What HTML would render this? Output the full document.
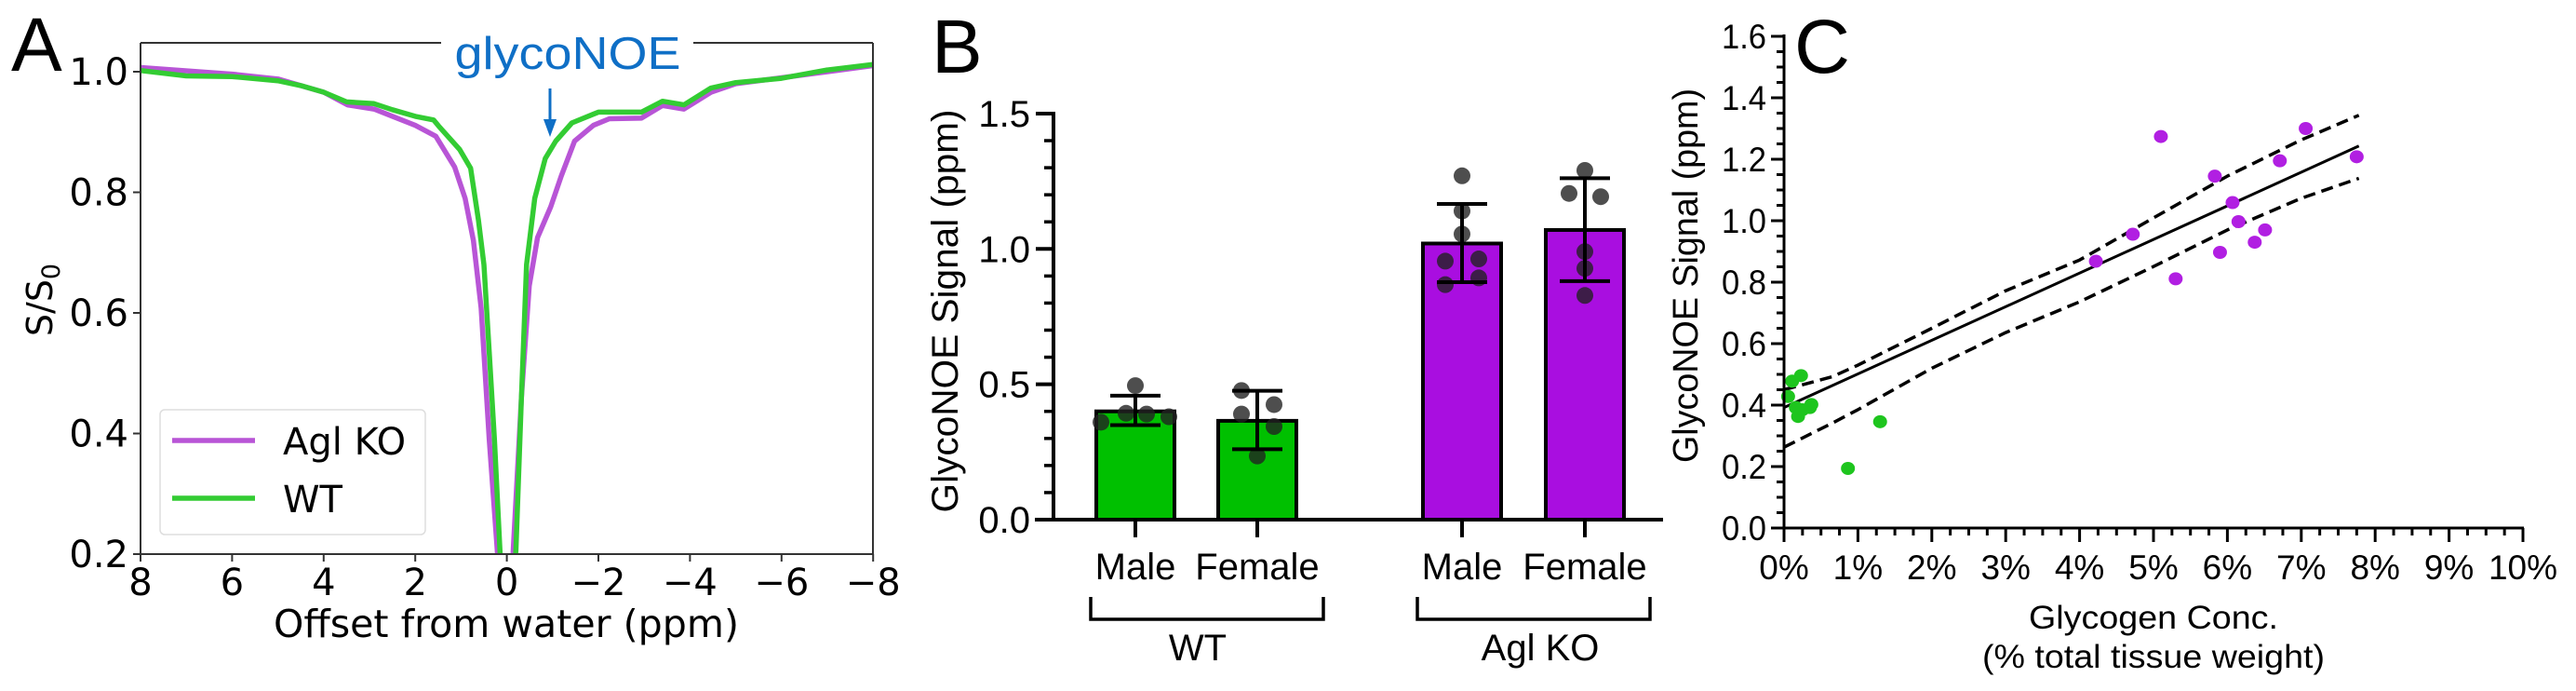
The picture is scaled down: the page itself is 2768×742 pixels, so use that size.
<!DOCTYPE html>
<html><head><meta charset="utf-8"><style>
html,body{margin:0;padding:0;background:#fff;}
svg{display:block;}
text{font-family:"Liberation Sans",sans-serif;}
.dv{font-family:"DejaVu Sans","Liberation Sans",sans-serif;}
</style></head><body>
<svg id="fig" xmlns="http://www.w3.org/2000/svg" width="2768" height="742" viewBox="0 0 2768 742">
<defs><clipPath id="clipA"><rect x="151" y="46" width="787" height="549"/></clipPath></defs>
<g id="panelA"></g>
<g id="panelB"></g>
<g id="panelC"></g>
</svg>
<script>
// ---------- Panel A data ----------
const wtOffsets = [8,7,6,5,4.5,4,3.5,2.9,2.5,2,1.6,1.49,1.03,0.79,0.62,0.5,0.385,0.27,0.15,0.05,-0.05,-0.2,-0.32,-0.43,-0.61,-0.84,-1.07,-1.42,-2,-2.94,-3.4,-3.87,-4.46,-5,-6,-7,-8];
const wtValues  = [1.002,0.993,0.992,0.985,0.977,0.966,0.95,0.947,0.937,0.926,0.92,0.91,0.871,0.84,0.754,0.68,0.535,0.39,0.207,0.05,0.05,0.207,0.46,0.68,0.79,0.856,0.885,0.915,0.933,0.933,0.951,0.945,0.973,0.982,0.989,1.003,1.012];
const koOffsets = [8,6,5,4,3.48,2.9,2,1.55,1.14,0.91,0.73,0.56,0.385,0.21,0.1,-0.05,-0.14,-0.32,-0.49,-0.67,-0.96,-1.19,-1.48,-1.89,-2.24,-2.94,-3.4,-3.87,-4.46,-5,-6,-7,-8];
const koValues  = [1.007,0.996,0.988,0.966,0.945,0.938,0.911,0.893,0.842,0.79,0.72,0.608,0.39,0.207,0.05,0.05,0.207,0.46,0.645,0.725,0.776,0.827,0.885,0.911,0.922,0.923,0.944,0.938,0.966,0.98,0.99,1.0,1.01];
const aXTicks = [8,6,4,2,0,-2,-4,-6,-8];
const aXTickLabels = ["8","6","4","2","0","\u22122","\u22124","\u22126","\u22128"];
const aYTicks = [0.2,0.4,0.6,0.8,1.0];
const aYTickLabels = ["0.2","0.4","0.6","0.8","1.0"];

// ---------- Panel B data ----------
const bCategories = ["Male","Female","Male","Female"];
const bMeans = [0.40,0.365,1.02,1.07];
const bErrLow = [0.349,0.26,0.877,0.881];
const bErrHigh = [0.458,0.476,1.166,1.261];
const bDots0 = [0.36,0.393,0.495,0.39,0.38];
const bDots1 = [0.477,0.39,0.425,0.344,0.235];
const bDots2 = [1.27,1.14,1.055,0.955,0.963,0.868,0.893];
const bDots3 = [1.29,1.205,1.193,0.99,0.928,0.828];
const bYTicks = [0,0.5,1.0,1.5];
const bYTickLabels = ["0.0","0.5","1.0","1.5"];

// ---------- Panel C data ----------
const cWtX = [0.055,0.11,0.23,0.16,0.19,0.35,0.37,0.25,1.3,0.865];
const cWtY = [0.428,0.478,0.496,0.392,0.363,0.392,0.402,0.385,0.346,0.194];
const cKoX = [4.22,4.72,5.1,5.3,5.83,5.9,6.07,6.15,6.37,6.51,6.71,7.06,7.75];
const cKoY = [0.868,0.956,1.274,0.811,1.145,0.897,1.059,0.997,0.93,0.97,1.195,1.3,1.208];
const cFitX = [0,7.78];
const cFitY = [0.392,1.243];
const cBandX = [0,0.65,1,2,3,4,5,6,7,7.78];
const cUpper = [0.45,0.492,0.53,0.65,0.772,0.872,1.009,1.145,1.263,1.343];
const cLower = [0.263,0.341,0.385,0.52,0.636,0.736,0.851,0.97,1.073,1.138];
const cXTicks = [0,1,2,3,4,5,6,7,8,9,10];
const cXTickLabels = ["0%","1%","2%","3%","4%","5%","6%","7%","8%","9%","10%"];
const cYTicks = [0,0.2,0.4,0.6,0.8,1.0,1.2,1.4,1.6];
const cYTickLabels = ["0.0","0.2","0.4","0.6","0.8","1.0","1.2","1.4","1.6"];

const NS = "http://www.w3.org/2000/svg";
function mk(parent, tag, attrs, txt){
  const e = document.createElementNS(NS, tag);
  for (const k in attrs) e.setAttribute(k, attrs[k]);
  if (txt !== undefined) e.textContent = txt;
  parent.appendChild(e); return e;
}

// ===== Panel A =====
(function(){
  const g = document.getElementById('panelA');
  const xA = p => 151 + (8 - p) * 49.2;
  const yA = v => 595 - (v - 0.2) * 647.5;
  let t;
  t = mk(g,'text',{x:12,y:76,'font-size':82});t.textContent='A';
  
  
  const cg = mk(g,'g',{'clip-path':'url(#clipA)'});
  function curve(xs, ys, color, name){
    let d = xs.map((x,i)=>(i?'L':'M')+xA(x).toFixed(1)+','+yA(ys[i]).toFixed(1)).join(' ');
    const p = mk(cg,'path',{d:d,fill:'none',stroke:color,'stroke-width':5.5,'stroke-linejoin':'round'});
    
    
  }
  curve(koOffsets, koValues, '#b855d6', 'agl-ko-curve');
  curve(wtOffsets, wtValues, '#33cc33', 'wt-curve');
  const sp = {stroke:'#333','stroke-width':2};
  let s;
  s = mk(g,'line',Object.assign({x1:151,y1:46,x2:151,y2:595},sp));
  
  
  s = mk(g,'line',Object.assign({x1:151,y1:595,x2:938,y2:595},sp));
  
  
  mk(g,'line',Object.assign({x1:938,y1:46,x2:938,y2:595},sp));
  mk(g,'line',Object.assign({x1:151,y1:46,x2:474,y2:46},sp));
  mk(g,'line',Object.assign({x1:745,y1:46,x2:938,y2:46},sp));
  aXTicks.forEach((v,i)=>{
    mk(g,'line',{x1:xA(v),y1:595,x2:xA(v),y2:603,stroke:'#333','stroke-width':2});
    const tt = mk(g,'text',{x:xA(v),y:639,'font-size':40,'text-anchor':'middle','class':'dv'}, aXTickLabels[i]);
    
    
  });
  aYTicks.forEach((v,i)=>{
    mk(g,'line',{x1:143,y1:yA(v),x2:151,y2:yA(v),stroke:'#333','stroke-width':2});
    const tt = mk(g,'text',{x:138,y:yA(v)+14,'font-size':40,'text-anchor':'end','class':'dv'}, aYTickLabels[i]);
    
    
  });
  t = mk(g,'text',{x:544,y:684,'font-size':41,'text-anchor':'middle','class':'dv',textLength:500,lengthAdjust:'spacingAndGlyphs'},'Offset from water (ppm)');
  
  
  t = mk(g,'text',{x:0,y:0,'font-size':38,'text-anchor':'middle','class':'dv',transform:'translate(56,322) rotate(-90)'});
  
  
  t.innerHTML = 'S/S<tspan font-size="27" dy="8">0</tspan>';
  t = mk(g,'text',{x:610,y:74,'font-size':49,'text-anchor':'middle',fill:'#0f6fc6',textLength:243,lengthAdjust:'spacingAndGlyphs'},'glycoNOE');
  
  
  const ar = mk(g,'g',{});
  
  
  mk(ar,'line',{x1:591,y1:95,x2:591,y2:132,stroke:'#0f6fc6','stroke-width':3});
  mk(ar,'polygon',{points:'584,128 598,128 591,147',fill:'#0f6fc6'});
  const lg = mk(g,'g',{});
  
  
  mk(lg,'rect',{x:172,y:440,width:285,height:134,rx:5,fill:'#fff',stroke:'#ddd','stroke-width':1.5});
  mk(lg,'line',{x1:185,y1:473,x2:274,y2:473,stroke:'#b855d6','stroke-width':5.5});
  t = mk(lg,'text',{x:304,y:488,'font-size':40,'class':'dv'},'Agl KO');
  
  
  mk(lg,'line',{x1:185,y1:535,x2:274,y2:535,stroke:'#33cc33','stroke-width':5.5});
  t = mk(lg,'text',{x:304,y:550,'font-size':40,'class':'dv'},'WT');
  
  
})();

// ===== Panel B =====
(function(){
  const g = document.getElementById('panelB');
  const yB = v => 558 - v * 290.7;
  const centers = [1220,1351,1571,1703];
  const colors = ['#00c000','#00c000','#a90ee0','#a90ee0'];
  const dotSets = [bDots0,bDots1,bDots2,bDots3];
  const dotOffsets = [[-37,-10,0,12,36],[-17,-17,18,18,0],[0,0,0,-18,18,-18,18],[0,-17,17,0,0,0]];
  let t;
  t = mk(g,'text',{x:1001,y:78,'font-size':82});t.textContent='B';
  
  
  bMeans.forEach((m,i)=>{
    const r = mk(g,'rect',{x:centers[i]-42,y:yB(m),width:84,height:yB(0)-yB(m),fill:colors[i],stroke:'#000','stroke-width':4});
    
    
  });
  dotSets.forEach((ds,i)=>{
    ds.forEach((v,j)=>{
      const c = mk(g,'circle',{cx:centers[i]+dotOffsets[i][j],cy:yB(v),r:9,fill:'#222','fill-opacity':0.8});
      
      
    });
  });
  bMeans.forEach((m,i)=>{
    const eg = mk(g,'g',{stroke:'#000','stroke-width':4});
    
    
    const cx = centers[i];
    mk(eg,'line',{x1:cx,y1:yB(bErrLow[i]),x2:cx,y2:yB(bErrHigh[i])});
    mk(eg,'line',{x1:cx-27,y1:yB(bErrLow[i]),x2:cx+27,y2:yB(bErrLow[i])});
    mk(eg,'line',{x1:cx-27,y1:yB(bErrHigh[i]),x2:cx+27,y2:yB(bErrHigh[i])});
  });
  let s = mk(g,'line',{x1:1132,y1:120,x2:1132,y2:560,stroke:'#000','stroke-width':4});
  
  
  s = mk(g,'line',{x1:1112,y1:558,x2:1787,y2:558,stroke:'#000','stroke-width':4});
  
  
  for (let k=1;k<15;k++){ if (k%5) mk(g,'line',{x1:1122,y1:yB(k/10),x2:1132,y2:yB(k/10),stroke:'#000','stroke-width':3.5}); }
  bYTicks.forEach((v,i)=>{
    mk(g,'line',{x1:1113,y1:yB(v),x2:1132,y2:yB(v),stroke:'#000','stroke-width':4});
    const tt = mk(g,'text',{x:1107,y:yB(v)+14,'font-size':40,'text-anchor':'end'}, bYTickLabels[i]);
    
    
  });
  centers.forEach((cx,i)=>{
    mk(g,'line',{x1:cx,y1:558,x2:cx,y2:577,stroke:'#000','stroke-width':4});
    const tt = mk(g,'text',{x:cx,y:622,'font-size':40,'text-anchor':'middle'}, bCategories[i]);
    
    
  });
  const br1 = mk(g,'path',{d:'M1172,641 V665 H1422 V641',fill:'none',stroke:'#000','stroke-width':3.5});
  
  
  const br2 = mk(g,'path',{d:'M1523,641 V665 H1773 V641',fill:'none',stroke:'#000','stroke-width':3.5});
  
  
  t = mk(g,'text',{x:1287,y:709,'font-size':40,'text-anchor':'middle'},'WT');
  
  
  t = mk(g,'text',{x:1655,y:709,'font-size':40,'text-anchor':'middle','xml:space':'preserve'},'Agl  KO');
  
  
  t = mk(g,'text',{x:0,y:0,'font-size':40,'text-anchor':'middle',transform:'translate(1029,334) rotate(-90)',textLength:433,lengthAdjust:'spacingAndGlyphs'},'GlycoNOE Signal (ppm)');
  
  
})();

// ===== Panel C =====
(function(){
  const g = document.getElementById('panelC');
  const xC = p => 1917 + p * 79.4;
  const yC = v => 567 - v * 330;
  let t;
  t = mk(g,'text',{x:1928,y:78,'font-size':82,textLength:60,lengthAdjust:'spacingAndGlyphs'});t.textContent='C';
  
  
  function poly(xs, ys, attrs, name){
    const d = xs.map((x,i)=>(i?'L':'M')+xC(x).toFixed(1)+','+yC(ys[i]).toFixed(1)).join(' ');
    const p = mk(g,'path',Object.assign({d:d,fill:'none',stroke:'#000','stroke-linejoin':'round'},attrs));
    
    
  }
  poly(cBandX, cUpper, {'stroke-width':3.5,'stroke-dasharray':'13,7'}, 'upper-confidence-band');
  poly(cBandX, cLower, {'stroke-width':3.5,'stroke-dasharray':'13,7'}, 'lower-confidence-band');
  poly(cFitX, cFitY, {'stroke-width':3}, 'regression-line');
  cWtX.forEach((x,i)=>{
    const c = mk(g,'ellipse',{cx:xC(x),cy:yC(cWtY[i]),rx:7.5,ry:7,fill:'#1ec51e'});
    
    
  });
  cKoX.forEach((x,i)=>{
    const c = mk(g,'ellipse',{cx:xC(x),cy:yC(cKoY[i]),rx:7.5,ry:7,fill:'#b11fe2'});
    
    
  });
  let s = mk(g,'line',{x1:1917,y1:37,x2:1917,y2:568,stroke:'#000','stroke-width':3});
  
  
  s = mk(g,'line',{x1:1916,y1:567,x2:2712,y2:567,stroke:'#000','stroke-width':3});
  
  
  for (let k=0;k<=32;k++){ const v=k*0.05; const major = k%4===0;
    mk(g,'line',{x1:major?1903:1909,y1:yC(v),x2:1917,y2:yC(v),stroke:'#000','stroke-width':3}); }
  for (let k=0;k<=40;k++){ const v=k*0.25; const major = k%4===0;
    mk(g,'line',{x1:xC(v),y1:567,x2:xC(v),y2:major?582:575,stroke:'#000','stroke-width':3}); }
  cYTicks.forEach((v,i)=>{
    const tt = mk(g,'text',{x:1898,y:yC(v)+13,'font-size':37,'text-anchor':'end',textLength:48,lengthAdjust:'spacingAndGlyphs'}, cYTickLabels[i]);
    
    
  });
  cXTicks.forEach((v,i)=>{
    const tt = mk(g,'text',{x:xC(v),y:622,'font-size':37,'text-anchor':'middle'}, cXTickLabels[i]);
    
    
  });
  t = mk(g,'text',{x:2314,y:675,'font-size':35,'text-anchor':'middle',textLength:268,lengthAdjust:'spacingAndGlyphs'},'Glycogen Conc.');
  
  
  t = mk(g,'text',{x:2314,y:717,'font-size':35,'text-anchor':'middle',textLength:368,lengthAdjust:'spacingAndGlyphs'},'(% total tissue weight)');
  
  
  t = mk(g,'text',{x:0,y:0,'font-size':38,'text-anchor':'middle',transform:'translate(1824,296) rotate(-90)',textLength:402,lengthAdjust:'spacingAndGlyphs'},'GlycoNOE Signal (ppm)');
  
  
})();
</script>
</body></html>
